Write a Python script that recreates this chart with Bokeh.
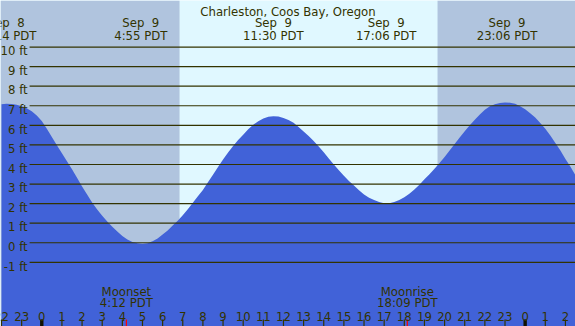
from bokeh.plotting import figure
from bokeh.core.properties import value
from bokeh.embed import file_html
from bokeh.resources import INLINE

# ---------------- data ----------------
title = "Charleston, Coos Bay, Oregon"

# water level (ft) every quarter hour, hours relative to Sep 9 00:00 PDT
hours = [-2.0, -1.75, -1.5, -1.25, -1.0, -0.75, -0.5, -0.25,
         0.0, 0.25, 0.5, 0.75, 1.0, 1.25, 1.5, 1.75,
         2.0, 2.25, 2.5, 2.75, 3.0, 3.25, 3.5, 3.75,
         4.0, 4.25, 4.5, 4.75, 5.0, 5.25, 5.5, 5.75,
         6.0, 6.25, 6.5, 6.75, 7.0, 7.25, 7.5, 7.75,
         8.0, 8.25, 8.5, 8.75, 9.0, 9.25, 9.5, 9.75,
         10.0, 10.25, 10.5, 10.75, 11.0, 11.25, 11.5, 11.75,
         12.0, 12.25, 12.5, 12.75, 13.0, 13.25, 13.5, 13.75,
         14.0, 14.25, 14.5, 14.75, 15.0, 15.25, 15.5, 15.75,
         16.0, 16.25, 16.5, 16.75, 17.0, 17.25, 17.5, 17.75,
         18.0, 18.25, 18.5, 18.75, 19.0, 19.25, 19.5, 19.75,
         20.0, 20.25, 20.5, 20.75, 21.0, 21.25, 21.5, 21.75,
         22.0, 22.25, 22.5, 22.75, 23.0, 23.25, 23.5, 23.75,
         24.0, 24.25, 24.5, 24.75, 25.0, 25.25, 25.5, 25.75,
         26.0, 26.25, 26.5]
tide_ft = [7.08, 7.10, 7.09, 7.05, 6.98, 6.87, 6.72, 6.50,
           6.22, 5.82, 5.40, 4.98, 4.57, 4.16, 3.75, 3.32,
           2.88, 2.46, 2.06, 1.70, 1.38, 1.08, 0.82, 0.57,
           0.35, 0.17, 0.04, -0.03, -0.05, -0.02, 0.08, 0.22,
           0.42, 0.63, 0.88, 1.13, 1.40, 1.71, 2.04, 2.37,
           2.70, 3.09, 3.48, 3.87, 4.25, 4.61, 4.95, 5.25,
           5.52, 5.80, 6.03, 6.21, 6.35, 6.44, 6.47, 6.45,
           6.38, 6.27, 6.13, 5.92, 5.68, 5.45, 5.20, 4.92,
           4.62, 4.31, 4.00, 3.70, 3.42, 3.16, 2.92, 2.68,
           2.47, 2.30, 2.18, 2.08, 2.02, 2.02, 2.08, 2.18,
           2.32, 2.50, 2.72, 2.97, 3.24, 3.50, 3.78, 4.07,
           4.38, 4.71, 5.05, 5.38, 5.70, 6.00, 6.28, 6.56,
           6.80, 6.98, 7.08, 7.14, 7.17, 7.16, 7.10, 6.98,
           6.82, 6.62, 6.40, 6.12, 5.82, 5.48, 5.10, 4.72,
           4.28, 3.88, 3.44]

# high / low tide annotations
extreme_hours = [-1.767, 4.917, 11.5, 17.1, 23.1]
extreme_dates = ["Sep\u00a0\u00a08", "Sep\u00a0\u00a09", "Sep\u00a0\u00a09",
                 "Sep\u00a0\u00a09", "Sep\u00a0\u00a09"]
extreme_times = ["22:14 PDT", "4:55 PDT", "11:30 PDT", "17:06 PDT", "23:06 PDT"]

# daylight
sunrise_hour = 6.84
sunset_hour = 19.65

# moon events
moon_hours = [4.2, 18.15]
moon_names = ["Moonset", "Moonrise"]
moon_times = ["4:12 PDT", "18:09 PDT"]

# hour ticks
tick_hours = [-2, -1, 0, 1, 2, 3, 4, 5, 6, 7, 8, 9, 10, 11, 12, 13, 14,
              15, 16, 17, 18, 19, 20, 21, 22, 23, 24, 25, 26]
tick_labels = ["22", "23", "0", "1", "2", "3", "4", "5", "6", "7", "8", "9",
               "10", "11", "12", "13", "14", "15", "16", "17", "18", "19",
               "20", "21", "22", "23", "0", "1", "2"]
midnight_hours = [0, 24]

# feet levels
ft_levels = [-1, 0, 1, 2, 3, 4, 5, 6, 7, 8, 9, 10]
ft_labels = ["-1 ft", "0 ft", "1 ft", "2 ft", "3 ft", "4 ft", "5 ft",
             "6 ft", "7 ft", "8 ft", "9 ft", "10 ft"]

# ---------------- styling / layout ----------------
W, H = 575, 326
X0, X1 = -2.05, 26.5
Y0, Y1 = -4.28, 12.38
SY = H / (Y1 - Y0)          # px per ft
NIGHT = "#b0c4de"
DAY = "#e0f8ff"
WATER = "#4162d8"
INK = "#333300"
FONT = value("DejaVu Sans")
FSIZE = value("11.7px")

p = figure(width=W, height=H, x_range=(X0, X1), y_range=(Y0, Y1),
           output_backend="svg", toolbar_location=None,
           x_axis_type=None, y_axis_type=None, min_border=0,
           background_fill_color=DAY, border_fill_color=DAY)
p.grid.visible = False
p.outline_line_color = None

# night shading
p.quad(left=[X0, sunset_hour], right=[sunrise_hour, X1], bottom=Y0, top=Y1,
       fill_color=NIGHT, line_color=None)

# water
p.varea(x=hours, y1=[Y0] * len(hours), y2=tide_ft, fill_color=WATER)

# horizontal level lines
line_start = -0.606
p.segment(x0=[line_start] * len(ft_levels), x1=[X1] * len(ft_levels),
          y0=ft_levels, y1=ft_levels, line_color=INK, line_width=1.2)

txt = dict(text_font=FONT, text_font_size=FSIZE, text_color=INK)

# level labels
p.text(x=[-0.70] * len(ft_levels), y=ft_levels, text=ft_labels,
       text_align="right", text_baseline="alphabetic", y_offset=4.2, **txt)

# title
p.text(x=[(X0 + X1) / 2], y=[Y1], text=[title], text_align="center",
       text_baseline="alphabetic", y_offset=11.0, **txt)

# extremes
p.text(x=extreme_hours, y=[Y1] * len(extreme_hours), text=extreme_dates,
       text_align="center", text_baseline="alphabetic", y_offset=22.2, **txt)
p.text(x=extreme_hours, y=[Y1] * len(extreme_hours), text=extreme_times,
       text_align="center", text_baseline="alphabetic", y_offset=35.3, **txt)

# hour ticks
tick_len = 7.0 / SY
p.segment(x0=tick_hours, x1=tick_hours, y0=[Y0] * len(tick_hours),
          y1=[Y0 + tick_len] * len(tick_hours), line_color=INK, line_width=1.2)
p.segment(x0=midnight_hours, x1=midnight_hours, y0=[Y0] * 2,
          y1=[Y0 + tick_len] * 2, line_color="#111100", line_width=3.4)
p.segment(x0=moon_hours, x1=moon_hours, y0=[Y0] * 2,
          y1=[Y0 + tick_len] * 2, line_color="#ff0000", line_width=1.2)

p.text(x=tick_hours, y=[Y0] * len(tick_hours), text=tick_labels,
       text_align="center", text_baseline="alphabetic", y_offset=-10.0, **txt)

# moon events
p.text(x=moon_hours, y=[Y0] * 2, text=moon_names, text_align="center",
       text_baseline="alphabetic", y_offset=-34.7, **txt)
p.text(x=moon_hours, y=[Y0] * 2, text=moon_times, text_align="center",
       text_baseline="alphabetic", y_offset=-23.3, **txt)

open("out.html", "w").write(file_html(p, INLINE))
